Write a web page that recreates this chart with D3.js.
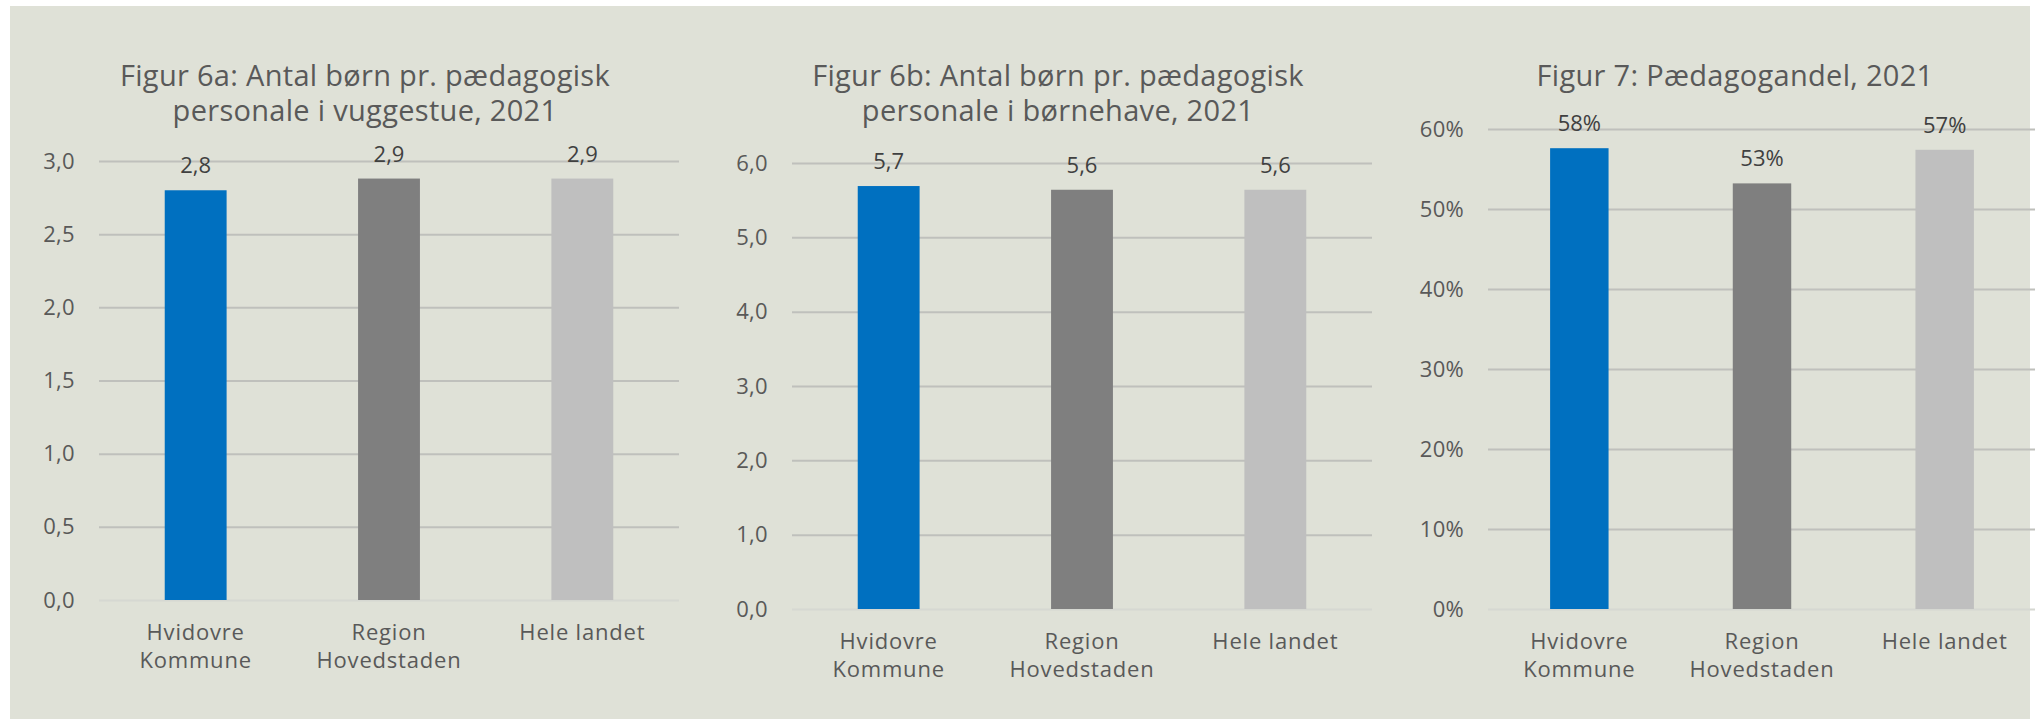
<!DOCTYPE html>
<html>
<head>
<meta charset="utf-8">
<script src="https://cdn.jsdelivr.net/npm/d3@7"></script>
<style>
  body { margin: 0; background: #fff; }
  svg text { font-family: "Open Sans", Lato, sans-serif; }
</style>
</head>
<body>
<div id="chart"></div>
<script>
// data
const categories = ['Hvidovre\nKommune', 'Region\nHovedstaden', 'Hele landet'];
const barColors = ['#0070c0', '#7f7f7f', '#bfbfbf'];

const vuggestue = [2.8, 2.88, 2.88];
const boernehave = [5.69, 5.64, 5.64];
const paedagogandel = [0.576, 0.532, 0.574];

const ticks6a = [0, 0.5, 1, 1.5, 2, 2.5, 3];
const ticks6b = [0, 1, 2, 3, 4, 5, 6];
const ticks7 = [0, 0.1, 0.2, 0.3, 0.4, 0.5, 0.6];

const titles6a = ['Figur 6a: Antal børn pr. pædagogisk', 'personale i vuggestue, 2021'];
const titles6b = ['Figur 6b: Antal børn pr. pædagogisk', 'personale i børnehave, 2021'];
const titles7 = ['Figur 7: Pædagogandel, 2021'];

const da = d3.formatLocale({ decimal: ',', thousands: '.', grouping: [3], currency: ['', ' kr.'] });
const fmt1 = da.format('.1f');
const fmtPct = da.format('.0%');

const W = 2035, H = 719;
const svg = d3.select('#chart').append('svg')
  .attr('width', W)
  .attr('height', H);

svg.append('rect')
  .attr('x', 10).attr('y', 6)
  .attr('width', 2020).attr('height', H - 6)
  .attr('fill', '#dfe1d7');

const charts = [
  { values: vuggestue, ticks: ticks6a, fmt: fmt1, title: titles6a, titleX: 365,
    x0: 99, x1: 679, y0: 600, yTop: 161 },
  { values: boernehave, ticks: ticks6b, fmt: fmt1, title: titles6b, titleX: 1058,
    x0: 792, x1: 1372, y0: 609, yTop: 163 },
  { values: paedagogandel, ticks: ticks7, fmt: fmtPct, title: titles7, titleX: 1735,
    x0: 1488, x1: 2036, y0: 609, yTop: 129 }
];

charts.forEach(function (c) {
  const g = svg.append('g');

  const x = d3.scaleBand()
    .domain(categories)
    .range([c.x0, c.x1])
    .paddingInner(0.68)
    .paddingOuter(0.34);

  const y = d3.scaleLinear()
    .domain([0, d3.max(c.ticks)])
    .range([c.y0, c.yTop]);

  // title
  g.append('text')
    .attr('text-anchor', 'middle')
    .attr('fill', '#595959')
    .style('font-size', '29px')
    .style('letter-spacing', '0.3px')
    .selectAll('tspan')
    .data(c.title)
    .enter()
    .append('tspan')
    .attr('x', c.titleX)
    .attr('y', (d, i) => 86 + i * 35)
    .text(d => d);

  // gridlines + y labels
  const yAxis = g.append('g')
    .attr('transform', 'translate(' + c.x0 + ',0)')
    .call(d3.axisLeft(y)
      .tickValues(c.ticks)
      .tickSize(-(c.x1 - c.x0))
      .tickPadding(24)
      .tickFormat(c.fmt));
  yAxis.select('.domain').remove();
  yAxis.selectAll('.tick line')
    .attr('stroke', d => d === 0 ? '#d6d8d2' : '#bfc0bc')
    .attr('stroke-width', 2);
  yAxis.selectAll('.tick text')
    .attr('fill', '#595959')
    .style('font-size', '22px')
    .style('letter-spacing', '0.3px');

  // bars
  g.selectAll('rect.bar')
    .data(c.values)
    .enter()
    .append('rect')
    .attr('class', 'bar')
    .attr('x', (d, i) => x(categories[i]))
    .attr('width', x.bandwidth())
    .attr('y', d => y(d))
    .attr('height', d => y(0) - y(d))
    .attr('fill', (d, i) => barColors[i]);

  // value labels
  g.selectAll('text.val')
    .data(c.values)
    .enter()
    .append('text')
    .attr('class', 'val')
    .attr('x', (d, i) => x(categories[i]) + x.bandwidth() / 2)
    .attr('y', d => y(d) - 17)
    .attr('text-anchor', 'middle')
    .attr('fill', '#404040')
    .style('font-size', '22px')
    .text(d => c.fmt(d));

  // category labels
  const xAxis = g.append('g')
    .attr('transform', 'translate(0,' + c.y0 + ')')
    .call(d3.axisBottom(x).tickSize(0).tickFormat(''));
  xAxis.select('.domain').remove();
  xAxis.selectAll('.tick').each(function (d) {
    const t = d3.select(this).select('text')
      .attr('fill', '#595959')
      .attr('y', 0)
      .attr('dy', null)
      .style('font-size', '22px')
      .style('letter-spacing', '0.8px');
    d.split('\n').forEach(function (line, i) {
      t.append('tspan')
        .attr('x', 0)
        .attr('y', 40 + i * 28)
        .text(line);
    });
  });
});
</script>
</body>
</html>
